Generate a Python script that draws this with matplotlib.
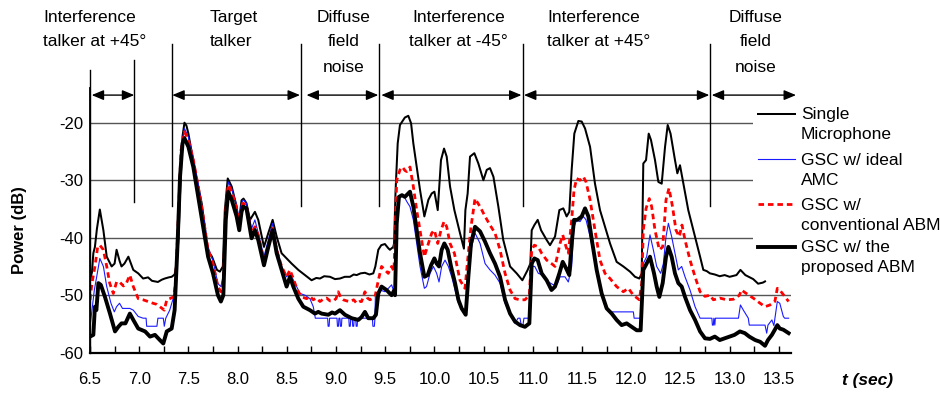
import matplotlib
matplotlib.use("Agg")
import matplotlib.pyplot as plt
from matplotlib.patches import Rectangle
from matplotlib.lines import Line2D

plt.rcParams['font.family'] = ['Liberation Sans', 'DejaVu Sans']

# ---- data (time in s, power in dB) ----
t_single = [6.5, 6.52, 6.534, 6.55, 6.57, 6.6, 6.636, 6.67, 6.72, 6.75, 6.77, 6.8, 6.82, 6.85, 6.89,
            6.94, 6.99, 7.04, 7.09, 7.13, 7.19, 7.23, 7.26, 7.3, 7.33, 7.36, 7.38, 7.4, 7.415, 7.44,
            7.46, 7.48, 7.5, 7.53, 7.58, 7.635, 7.67, 7.69, 7.74, 7.79, 7.82, 7.85, 7.87, 7.9, 7.94,
            7.99, 8.01, 8.04, 8.06, 8.09, 8.126, 8.176, 8.21, 8.268, 8.312, 8.356, 8.397, 8.447, 8.498,
            8.549, 8.617, 8.685, 8.752, 8.8, 8.837, 8.88, 8.939, 8.99, 9.04, 9.09, 9.142, 9.18, 9.21,
            9.25, 9.294, 9.34, 9.379, 9.4, 9.43, 9.46, 9.497, 9.53, 9.548, 9.582, 9.59, 9.605, 9.627,
            9.65, 9.7, 9.735, 9.763, 9.786, 9.82, 9.854, 9.898, 9.939, 9.973, 10.0, 10.034, 10.067,
            10.098, 10.125, 10.159, 10.203, 10.26, 10.3, 10.315, 10.338, 10.362, 10.406, 10.447, 10.498,
            10.532, 10.565, 10.6, 10.65, 10.7, 10.769, 10.836, 10.894, 10.948, 10.975, 10.989, 11.016,
            11.05, 11.084, 11.141, 11.175, 11.226, 11.27, 11.31, 11.344, 11.371, 11.395, 11.422, 11.463,
            11.497, 11.531, 11.582, 11.632, 11.683, 11.734, 11.785, 11.852, 11.92, 11.988, 12.039,
            12.083, 12.107, 12.123, 12.151, 12.178, 12.201, 12.242, 12.276, 12.31, 12.344, 12.371, 12.4,
            12.445, 12.469, 12.496, 12.53, 12.58, 12.632, 12.7, 12.733, 12.767, 12.8, 12.85, 12.9,
            12.95, 13.0, 13.07, 13.11, 13.16, 13.24, 13.29, 13.34, 13.36]
p_single = [-47.4, -46.0, -42.7, -41.6, -38.5, -35.1, -38.7, -43.3, -45.0, -44.5, -42.1, -44.0, -45.0,
            -44.5, -43.3, -45.6, -46.2, -47.1, -46.9, -47.5, -47.7, -47.3, -47.1, -46.9, -46.8, -46.4,
            -44.5, -40.0, -32.3, -22.4, -20.0, -20.5, -21.9, -24.8, -29.4, -34.0, -38.5, -42.1, -43.3,
            -45.6, -45.9, -45.0, -35.2, -29.7, -31.1, -34.6, -37.8, -33.5, -33.2, -34.0, -36.9, -35.5,
            -36.9, -41.6, -39.2, -36.9, -39.8, -42.7, -43.6, -44.5, -45.6, -46.5, -47.4, -47.0, -47.1,
            -46.7, -46.8, -47.2, -47.1, -46.8, -46.8, -46.4, -46.5, -46.2, -46.1, -46.4, -46.2, -45.0,
            -42.1, -41.3, -41.1, -41.8, -42.1, -41.6, -41.0, -32.0, -23.6, -20.4, -19.1, -18.8, -20.1,
            -23.6, -27.7, -31.7, -36.3, -33.4, -32.3, -32.0, -35.2, -26.5, -24.5, -25.9, -31.1, -35.2,
            -39.2, -41.9, -35.2, -32.3, -25.9, -25.3, -27.1, -30.0, -28.2, -27.9, -29.4, -34.6, -40.4,
            -45.0, -46.2, -47.4, -45.6, -44.5, -38.7, -37.8, -36.9, -38.7, -40.4, -41.3, -39.8, -35.2,
            -34.9, -36.3, -35.5, -28.2, -21.9, -19.7, -19.8, -21.0, -24.2, -30.6, -35.2, -38.1, -41.0,
            -44.2, -45.0, -45.9, -46.8, -47.1, -46.2, -27.1, -26.5, -21.9, -23.0, -26.5, -30.3, -30.6,
            -24.2, -20.4, -21.9, -26.5, -28.8, -27.4, -30.6, -35.2, -38.7, -43.3, -45.6, -45.8, -46.2,
            -46.4, -46.7, -46.5, -46.8, -46.5, -45.6, -46.5, -47.2, -48.0, -47.8, -47.6]

t_ideal = [6.5, 6.52, 6.544, 6.568, 6.6, 6.636, 6.67, 6.713, 6.747, 6.77, 6.8, 6.83, 6.87, 6.905, 6.94,
           6.99, 7.04, 7.07, 7.076, 7.18, 7.19, 7.245, 7.255, 7.27, 7.31, 7.35, 7.37, 7.4, 7.425, 7.46,
           7.5, 7.55, 7.6, 7.65, 7.7, 7.75, 7.8, 7.83, 7.855, 7.88, 7.905, 7.94, 7.99, 8.017, 8.04,
           8.058, 8.09, 8.142, 8.176, 8.21, 8.268, 8.312, 8.356, 8.397, 8.447, 8.498, 8.532, 8.583,
           8.634, 8.685, 8.735, 8.769, 8.79, 8.915, 8.92, 8.93, 8.935, 9.01, 9.015, 9.025, 9.03, 9.04,
           9.045, 9.055, 9.06, 9.13, 9.135, 9.145, 9.15, 9.165, 9.17, 9.18, 9.185, 9.2, 9.205, 9.215,
           9.22, 9.37, 9.375, 9.39, 9.396, 9.4, 9.447, 9.5,
           9.565, 9.59, 9.6, 9.617, 9.65, 9.685, 9.719, 9.752, 9.786, 9.82, 9.854, 9.898, 9.92, 9.956,
           9.99, 10.023, 10.047, 10.074, 10.108, 10.142, 10.176, 10.21, 10.244, 10.277, 10.311, 10.338,
           10.372, 10.413, 10.464, 10.515, 10.565, 10.616, 10.667, 10.718, 10.769, 10.82, 10.85,
           10.87, 10.88, 10.9, 10.91, 10.965, 10.989, 11.02, 11.056, 11.107, 11.158, 11.21, 11.25,
           11.277, 11.327, 11.361, 11.395, 11.419, 11.446, 11.48, 11.514, 11.541, 11.582, 11.632,
           11.683, 11.734, 11.785, 11.852, 11.92, 12.022, 12.03, 12.107, 12.123, 12.157, 12.191,
           12.225, 12.259, 12.3, 12.327, 12.354, 12.378, 12.411, 12.445, 12.479, 12.513, 12.547,
           12.598, 12.649, 12.7, 12.82, 12.825, 12.835, 12.84, 12.85, 12.855, 13.09, 13.11, 13.14,
           13.19, 13.2, 13.36, 13.377, 13.39, 13.43, 13.45, 13.485, 13.51, 13.546, 13.56, 13.6]
p_ideal = [-55.5, -52.6, -49.1, -46.8, -43.6, -45.0, -48.5, -51.4, -52.9, -52.0, -51.4, -52.3, -52.3,
           -52.3, -52.6, -53.7, -54.0, -54.0, -55.4, -55.4, -54.0, -54.0, -55.4, -54.0, -52.6, -50.3,
           -47.0, -34.0, -24.2, -21.0, -22.5, -26.0, -30.6, -35.8, -41.6, -44.0, -48.0, -48.5, -46.5,
           -34.5, -30.3, -31.5, -34.3, -37.0, -34.0, -33.4, -34.0, -38.4, -36.9, -39.2, -43.3, -40.4,
           -37.5, -41.6, -45.0, -46.8, -46.2, -47.9, -49.7, -50.0, -50.6, -52.0, -54.0, -54.0, -55.4,
           -55.4, -54.0, -54.0, -55.4, -55.4, -54.0, -54.0, -55.4, -55.4, -54.0, -54.0, -55.4, -55.4,
           -54.0, -54.0, -55.4, -55.4, -54.0, -54.0, -55.4, -55.4, -54.0, -54.0, -55.4, -55.4, -54.0,
           -50.3, -49.1, -49.4, -48.2, -49.5, -49.1, -35.2,
           -32.9, -32.6, -33.7, -34.6, -36.9, -41.0, -45.0, -48.8, -48.5, -46.2, -45.0, -46.2, -47.7,
           -45.0, -43.9, -45.0, -46.8, -49.1, -51.4, -52.3, -53.2, -47.9, -42.1, -39.2, -41.0, -44.5,
           -45.6, -46.5, -47.9, -51.4, -53.4, -54.9, -54.0, -54.0, -55.0, -55.2, -54.0, -54.0, -45.0,
           -45.0, -46.2, -46.5, -47.7, -48.2, -48.0, -46.8, -46.8, -47.7, -45.0, -38.1, -36.9, -37.2,
           -36.3, -36.9, -39.8, -43.9, -48.5, -52.0, -52.9, -52.9, -52.9, -52.9, -54.0, -54.0, -44.5,
           -43.3, -39.5, -42.1, -45.0, -46.2, -44.5, -39.8, -37.5, -39.8, -42.7, -45.6, -45.0, -46.8,
           -49.1, -52.0, -54.0, -54.0, -55.2, -55.2, -54.0, -55.2, -54.0, -54.0, -51.7, -52.6, -54.0,
           -55.2, -55.2, -56.6, -55.2, -54.3, -55.3, -51.1, -51.4, -53.7, -54.0, -54.0]

t_conv = [6.5, 6.52, 6.55, 6.578, 6.6, 6.636, 6.67, 6.7, 6.737, 6.77, 6.8, 6.84, 6.87, 6.905, 6.94,
          6.99, 7.04, 7.09, 7.14, 7.18, 7.21, 7.255, 7.28, 7.31, 7.35, 7.37, 7.4, 7.425, 7.46, 7.5,
          7.55, 7.6, 7.65, 7.7, 7.75, 7.8, 7.83, 7.855, 7.88, 7.905, 7.94, 7.99, 8.017, 8.04, 8.058,
          8.09, 8.142, 8.176, 8.21, 8.268, 8.312, 8.356, 8.397, 8.447, 8.498, 8.532, 8.566, 8.607,
          8.651, 8.702, 8.735, 8.769, 8.8, 8.837, 8.87, 8.905, 8.94, 8.973, 9.0, 9.023, 9.05, 9.074,
          9.11, 9.142, 9.18, 9.21, 9.24, 9.26, 9.294, 9.32, 9.345, 9.396, 9.43, 9.463, 9.497, 9.531,
          9.565, 9.589, 9.617, 9.65, 9.675, 9.7, 9.719, 9.752, 9.786, 9.82, 9.854, 9.898, 9.939,
          9.973, 10.0, 10.034, 10.067, 10.098, 10.125, 10.159, 10.203, 10.26, 10.311, 10.338, 10.372,
          10.413, 10.464, 10.515, 10.565, 10.616, 10.667, 10.718, 10.769, 10.82, 10.87, 10.92, 10.965,
          10.989, 11.016, 11.056, 11.09, 11.141, 11.19, 11.226, 11.277, 11.304, 11.338, 11.361,
          11.395, 11.419, 11.446, 11.48, 11.514, 11.541, 11.582, 11.632, 11.683, 11.734, 11.785,
          11.852, 11.92, 11.971, 12.022, 12.083, 12.107, 12.123, 12.151, 12.184, 12.208, 12.242,
          12.286, 12.32, 12.354, 12.384, 12.42, 12.455, 12.489, 12.516, 12.547, 12.598, 12.649, 12.7,
          12.75, 12.8, 12.835, 12.9, 12.97, 13.04, 13.1, 13.12, 13.17, 13.24, 13.31, 13.36, 13.41,
          13.46, 13.485, 13.51, 13.55, 13.6]
p_conv = [-50.8, -47.9, -45.0, -41.6, -41.3, -42.1, -45.0, -47.9, -49.7, -47.7, -47.7, -48.4, -47.9,
          -46.5, -48.5, -50.6, -50.8, -51.1, -51.4, -51.6, -52.0, -52.6, -50.8, -50.6, -50.3, -47.9,
          -35.2, -24.8, -21.6, -23.0, -26.5, -31.1, -36.3, -42.1, -44.5, -48.5, -49.4, -47.5, -35.2,
          -30.8, -32.0, -34.9, -37.5, -34.5, -34.0, -34.6, -39.2, -38.1, -39.5, -43.9, -41.6, -38.4,
          -42.1, -45.0, -46.8, -45.6, -47.1, -49.1, -50.3, -50.6, -50.2, -50.8, -50.5, -51.1, -50.7,
          -50.5, -51.0, -51.0, -50.6, -49.4, -50.5, -50.8, -51.0, -51.1, -50.8, -51.4, -51.1, -51.1,
          -49.4, -50.5, -50.8, -50.3, -47.4, -45.0, -45.6, -46.2, -45.0, -45.8, -30.0, -28.2, -27.7,
          -28.3, -28.5, -27.7, -31.1, -35.2, -38.7, -43.3, -41.0, -39.2, -38.7, -41.0, -38.7, -37.2,
          -38.1, -41.0, -42.7, -47.4, -48.8, -43.9, -38.1, -33.2, -34.6, -36.3, -37.8, -39.2, -42.1,
          -46.2, -49.1, -50.6, -50.8, -50.8, -50.0, -42.1, -41.3, -41.6, -42.7, -43.9, -44.5, -45.0,
          -41.0, -39.5, -41.6, -42.7, -36.9, -31.7, -29.7, -30.0, -29.4, -30.3, -33.4, -38.7, -43.9,
          -46.2, -47.1, -48.5, -49.4, -48.8, -50.0, -50.8, -47.9, -38.7, -34.9, -33.2, -34.6, -38.7,
          -42.1, -41.6, -33.4, -31.4, -34.6, -38.7, -39.8, -37.8, -40.4, -43.9, -46.8, -49.4, -50.2,
          -50.0, -50.8, -50.5, -50.8, -50.7, -50.0, -49.1, -49.7, -50.5, -51.4, -52.0, -51.7, -51.1,
          -48.8, -49.1, -50.0, -51.1]

t_prop = [6.5, 6.534, 6.55, 6.565, 6.585, 6.61, 6.652, 6.703, 6.754, 6.788, 6.82, 6.86, 6.905, 6.94,
          6.99, 7.06, 7.11, 7.16, 7.21, 7.245, 7.28, 7.33, 7.36, 7.39, 7.415, 7.44, 7.46, 7.5, 7.55,
          7.6, 7.65, 7.7, 7.75, 7.8, 7.83, 7.855, 7.88, 7.905, 7.94, 7.99, 8.017, 8.04, 8.058, 8.09,
          8.142, 8.176, 8.21, 8.268, 8.312, 8.356, 8.397, 8.447, 8.498, 8.532, 8.566, 8.617, 8.668,
          8.735, 8.786, 8.82, 8.854, 8.922, 8.96, 8.99, 9.04, 9.091, 9.159, 9.227, 9.26, 9.294, 9.328,
          9.379, 9.406, 9.43, 9.463, 9.514, 9.565, 9.59, 9.6, 9.617, 9.64, 9.67, 9.7, 9.752, 9.786,
          9.82, 9.854, 9.898, 9.932, 9.966, 10.0, 10.023, 10.047, 10.074, 10.101, 10.135, 10.169,
          10.21, 10.244, 10.277, 10.318, 10.345, 10.372, 10.413, 10.464, 10.515, 10.565, 10.616,
          10.667, 10.718, 10.769, 10.82, 10.87, 10.92, 10.965, 10.989, 11.016, 11.05, 11.09, 11.141,
          11.19, 11.226, 11.27, 11.304, 11.338, 11.371, 11.395, 11.419, 11.453, 11.497, 11.531,
          11.565, 11.6, 11.649, 11.7, 11.751, 11.802, 11.852, 11.903, 11.954, 12.005, 12.056, 12.096,
          12.123, 12.157, 12.191, 12.232, 12.259, 12.286, 12.32, 12.354, 12.378, 12.411, 12.445,
          12.479, 12.513, 12.547, 12.598, 12.649, 12.7, 12.75, 12.8, 12.85, 12.9, 12.95, 13.0, 13.05,
          13.105, 13.155, 13.2, 13.26, 13.31, 13.36, 13.39, 13.43, 13.46, 13.485, 13.51, 13.546, 13.6]
p_prop = [-57.2, -56.9, -52.0, -52.6, -47.9, -48.2, -50.3, -53.2, -56.3, -55.5, -54.9, -54.9, -53.2,
          -54.3, -55.8, -56.3, -57.2, -56.9, -57.8, -58.4, -56.3, -55.8, -52.6, -41.0, -29.4, -23.6,
          -22.7, -24.2, -27.7, -32.9, -38.1, -43.3, -46.2, -50.0, -51.1, -50.0, -36.9, -32.0, -33.4,
          -36.3, -38.7, -35.5, -34.6, -34.9, -40.1, -38.7, -40.4, -44.8, -41.6, -38.7, -42.7, -45.6,
          -48.5, -46.8, -48.5, -50.6, -52.0, -52.6, -53.2, -52.9, -53.2, -53.4, -53.0, -53.2, -52.6,
          -53.4, -54.0, -54.3, -53.8, -52.9, -54.0, -54.0, -53.4, -49.7, -48.5, -49.1, -50.0, -49.2,
          -50.0, -37.5, -32.9, -32.6, -32.9, -32.0, -34.6, -38.7, -42.7, -46.8, -46.5, -44.8, -43.6,
          -44.5, -45.0, -42.1, -41.0, -42.1, -45.0, -47.9, -50.8, -52.3, -53.4, -46.8, -41.0, -38.1,
          -38.9, -40.7, -42.7, -44.5, -46.8, -50.8, -53.2, -54.6, -55.2, -55.5, -54.9, -44.5, -43.6,
          -43.9, -46.2, -47.4, -49.1, -48.5, -46.2, -44.2, -45.3, -46.5, -41.0, -36.9, -36.9, -36.3,
          -34.9, -36.3, -40.4, -45.6, -49.7, -52.3, -53.2, -54.3, -55.2, -54.9, -55.5, -56.1, -56.1,
          -45.6, -44.5, -43.3, -46.2, -48.5, -50.3, -47.9, -43.3, -41.6, -43.3, -46.2, -47.9, -48.5,
          -50.3, -52.6, -54.3, -56.3, -57.5, -57.6, -57.2, -57.8, -57.5, -57.2, -56.9, -56.3, -56.6,
          -57.2, -57.8, -58.1, -58.8, -57.8, -56.9, -56.0, -55.2, -55.8, -56.0, -56.6]

series_labels = [["Single", "Microphone"], ["GSC w/ ideal", "AMC"],
                 ["GSC w/", "conventional ABM"], ["GSC w/ the", "proposed ABM"]]

# segment boundaries (s) and the annotation texts above the plot
seg_bounds = [6.5, 6.947, 7.333, 8.644, 9.437, 10.9, 12.8]
arrow_spans = [(6.517, 6.95), (7.336, 8.634), (8.70, 9.43), (9.46, 10.885),
               (10.91, 12.794), (12.818, 13.675)]
seg_texts = [["Interference", "talker at +45\u00b0"], ["Target", "talker"],
             ["Diffuse", "field", "noise"], ["Interference", "talker at -45\u00b0"],
             ["Interference", "talker at +45\u00b0"], ["Diffuse", "field", "noise"]]

x_ticks = [6.5, 7.0, 7.5, 8.0, 8.5, 9.0, 9.5, 10.0, 10.5, 11.0, 11.5, 12.0, 12.5, 13.0, 13.5]
y_ticks = [-60, -50, -40, -30, -20]

# ---- figure ----
W, H = 940, 395
fig = plt.figure(figsize=(W / 100, H / 100), dpi=100)
ax = fig.add_axes([90 / W, 42.3 / H, 700.6 / W, 264.5 / H])

def fx(px):
    return px / W

def fy(py):
    return 1 - py / H

st_single = dict(color='black', lw=1.45)
st_ideal = dict(color='#1a1aff', lw=0.8)
st_conv = dict(color='#ff0000', lw=2.0, ls=(0, (2.0, 1.4)))
st_prop = dict(color='black', lw=2.8)

ax.plot(t_single, p_single, zorder=3, **st_single)
ax.plot(t_ideal, p_ideal, zorder=3, **st_ideal)
ax.plot(t_conv, p_conv, zorder=3, **st_conv)
ax.plot(t_prop, p_prop, zorder=3, **st_prop)

ax.set_xlim(6.5, 13.62)
ax.set_ylim(-60, -14)
ax.set_xticks(x_ticks)
ax.set_xticklabels(["%.1f" % v for v in x_ticks], fontsize=12)
ax.set_xticks([v + 0.25 for v in x_ticks[:-1]], minor=True)
ax.set_yticks(y_ticks)
ax.set_yticklabels([str(v) for v in y_ticks], fontsize=12)
ax.tick_params(axis='x', which='both', direction='in', length=5, width=1, pad=14)
ax.tick_params(axis='y', length=0, pad=5)
ax.grid(axis='y', color='#555555', lw=1)
for s in ['top', 'right']:
    ax.spines[s].set_visible(False)
ax.spines['left'].set_linewidth(1.3)
ax.spines['bottom'].set_linewidth(1.6)

# white legend area hides the grid lines behind it
ax.add_patch(Rectangle((fx(753), fy(262)), fx(50), fy(100) - fy(262), transform=fig.transFigure,
                       facecolor='white', edgecolor='none', zorder=2))

# segment markers
tops = [-10.8, -9.1, -6.3, -6.3, -6.3, -6.3, -6.3]
bots = [-60, -33.8, -34.5, -34.5, -34.5, -34.5, -34.5]
for t, top, bot in zip(seg_bounds, tops, bots):
    ax.plot([t, t], [bot, top], color='black', lw=1, clip_on=False, zorder=4)
for a, b in arrow_spans:
    ax.annotate('', xy=(b, -15.2), xytext=(a, -15.2), annotation_clip=False,
                arrowprops=dict(arrowstyle='<|-|>,head_length=0.6,head_width=0.25',
                                color='black', lw=1, mutation_scale=12, shrinkA=0, shrinkB=0))

text_x = [43, 210, 344, 458.5, 547, 755.5]
text_ha = ['left', 'left', 'center', 'center', 'left', 'center']
baselines = [21.7, 46.2, 71.5]
for lines, x, ha in zip(seg_texts, text_x, text_ha):
    for line, yb in zip(lines, baselines):
        fig.text(fx(x), fy(yb), line, ha=ha, va='baseline', fontsize=12.5)

# legend
leg_y = [113.5, 159.3, 204, 246.7]
for y, st, lab in zip(leg_y, [st_single, st_ideal, st_conv, st_prop], series_labels):
    fig.add_artist(Line2D([fx(758), fx(795)], [fy(y), fy(y)], transform=fig.transFigure, **st))
    fig.text(fx(801), fy(y + 5.5), lab[0], va='baseline', fontsize=12.5)
    fig.text(fx(801), fy(y + 25.5), lab[1], va='baseline', fontsize=12.5)

fig.text(fx(20), fy(230), "Power (dB)", rotation=90, ha='center', va='center',
         fontsize=12, fontweight='bold')
fig.text(fx(867), fy(381), "t (sec)", ha='center', va='center', fontsize=12.5,
         fontweight='bold', fontstyle='italic')

fig.savefig("out.png", dpi=100)
